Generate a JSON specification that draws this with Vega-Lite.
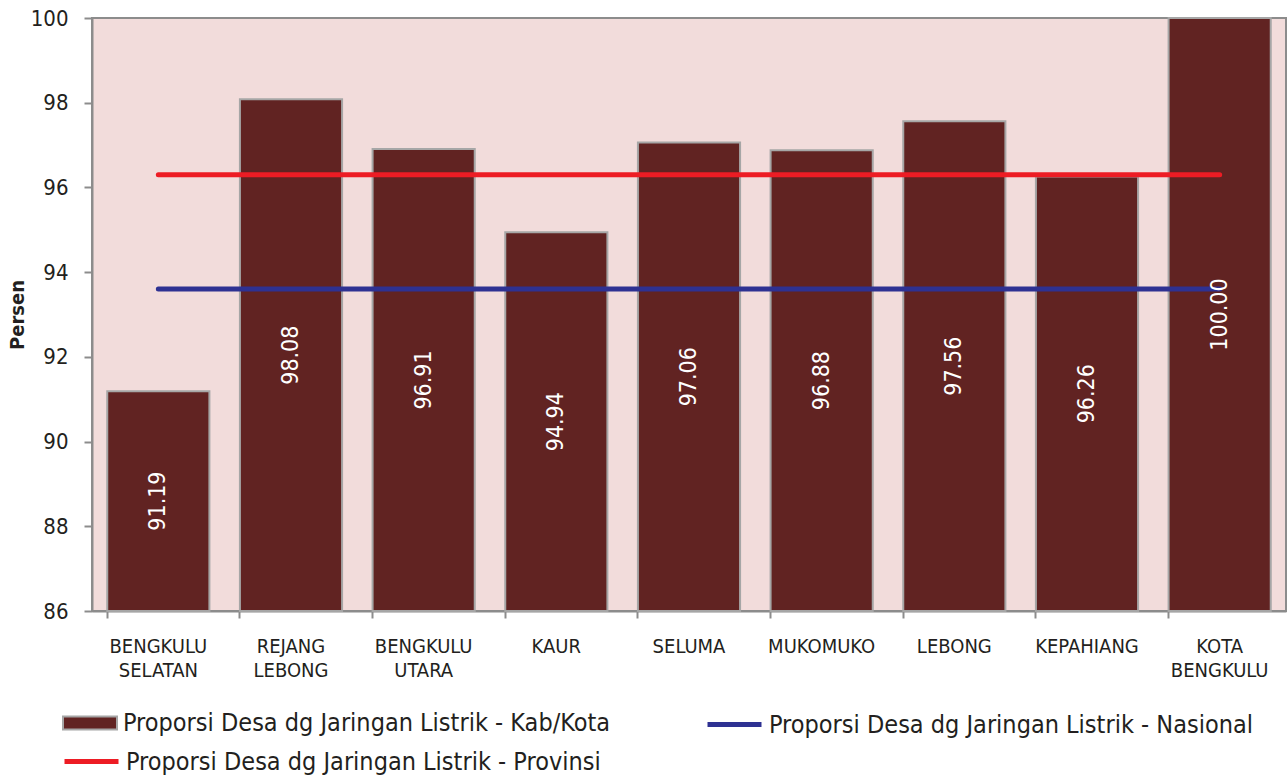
{
  "$schema": "https://vega.github.io/schema/vega-lite/v6.json",
  "autosize": "none",
  "width": 1194,
  "height": 593,
  "padding": {"left": 92, "top": 18, "right": 1, "bottom": 164},
  "background": "white",
  "config": {
    "font": "DejaVu Sans Condensed",
    "view": {"fill": "#f2dcdb", "stroke": "#8c8c8c", "strokeWidth": 2},
    "axis": {"labelFont": "DejaVu Sans Condensed", "titleFont": "DejaVu Sans Condensed", "labelColor": "#231f20", "titleColor": "#231f20"},
    "legend": {"labelFont": "DejaVu Sans Condensed", "labelFontSize": 25, "labelColor": "#231f20", "labelOffset": 5, "labelLimit": 700, "padding": 0, "title": null, "symbolOpacity": 1}
  },
  "data": {
    "values": [
      {"wilayah": "BENGKULU SELATAN", "value": 91.19, "provinsi": 96.3, "nasional": 93.6},
      {"wilayah": "REJANG LEBONG", "value": 98.08, "provinsi": 96.3, "nasional": 93.6},
      {"wilayah": "BENGKULU UTARA", "value": 96.91, "provinsi": 96.3, "nasional": 93.6},
      {"wilayah": "KAUR", "value": 94.94, "provinsi": 96.3, "nasional": 93.6},
      {"wilayah": "SELUMA", "value": 97.06, "provinsi": 96.3, "nasional": 93.6},
      {"wilayah": "MUKOMUKO", "value": 96.88, "provinsi": 96.3, "nasional": 93.6},
      {"wilayah": "LEBONG", "value": 97.56, "provinsi": 96.3, "nasional": 93.6},
      {"wilayah": "KEPAHIANG", "value": 96.26, "provinsi": 96.3, "nasional": 93.6},
      {"wilayah": "KOTA BENGKULU", "value": 100.0, "provinsi": 96.3, "nasional": 93.6}
    ]
  },
  "encoding": {
    "x": {
      "field": "wilayah", "type": "nominal", "sort": null,
      "scale": {"paddingInner": 0.23, "paddingOuter": 0.115},
      "axis": {
        "title": null, "labelAngle": 0, "labelFontSize": 20, "labelLineHeight": 24,
        "labelExpr": "split(datum.label, ' ')", "labelPadding": 18,
        "bandPosition": 0, "tickColor": "#8c8c8c", "tickWidth": 2, "tickSize": 7,
        "domainColor": "#8c8c8c", "domainWidth": 2, "labelBaseline": "top"
      }
    }
  },
  "layer": [
    {
      "mark": {"type": "bar", "stroke": "#a6a6a6", "strokeWidth": 2},
      "encoding": {
        "y": {
          "field": "value", "type": "quantitative",
          "scale": {"domain": [86, 100], "nice": false, "zero": false},
          "axis": {
            "title": "Persen", "titleFontSize": 20, "titleFontWeight": "bold", "titlePadding": 3,
            "labelFontSize": 22, "values": [86, 88, 90, 92, 94, 96, 98, 100], "labelOverlap": false,
            "grid": false, "tickColor": "#8c8c8c", "tickWidth": 2, "tickSize": 8,
            "domainColor": "#8c8c8c", "domainWidth": 2, "labelPadding": 16
          }
        },
        "y2": {"datum": 86},
        "fill": {
          "datum": "Proporsi Desa dg Jaringan Listrik - Kab/Kota",
          "scale": {"range": ["#612322"]},
          "legend": {
            "orient": "none", "legendX": -30, "legendY": 677,
            "symbolType": "M-1,-0.24H1V0.24H-1Z", "symbolSize": 2916,
            "symbolFillColor": "#612322", "symbolStrokeColor": "#a6a6a6", "symbolStrokeWidth": 2
          }
        }
      }
    },
    {
      "mark": {"type": "line", "strokeWidth": 5, "strokeCap": "round"},
      "encoding": {
        "y": {"field": "provinsi", "type": "quantitative"},
        "color": {
          "datum": "Proporsi Desa dg Jaringan Listrik - Provinsi",
          "scale": {"range": ["#ed1c24"]},
          "legend": {
            "orient": "none", "legendX": -30, "legendY": 714,
            "symbolType": "stroke", "symbolSize": 2916, "symbolStrokeWidth": 5, "symbolStrokeColor": "#ed1c24"
          }
        }
      }
    },
    {
      "mark": {"type": "line", "strokeWidth": 5, "strokeCap": "round", "stroke": "#2e3192"},
      "encoding": {
        "y": {"field": "nasional", "type": "quantitative"},
        "strokeDash": {
          "datum": "Proporsi Desa dg Jaringan Listrik - Nasional",
          "scale": {"range": [[1, 0]]},
          "legend": {
            "orient": "none", "legendX": 613, "legendY": 677,
            "symbolType": "stroke", "symbolSize": 2916, "symbolStrokeWidth": 5, "symbolStrokeColor": "#2e3192"
          }
        }
      }
    },
    {
      "transform": [{"calculate": "(86 + datum.value) / 2", "as": "mid"}],
      "mark": {"type": "text", "angle": 270, "color": "white", "fontSize": 23, "align": "center", "baseline": "middle"},
      "encoding": {
        "y": {"field": "mid", "type": "quantitative"},
        "text": {"field": "value", "type": "quantitative", "format": ".2f"}
      }
    }
  ],
  "resolve": {"legend": {"fill": "independent", "color": "independent", "strokeDash": "independent"}}
}
